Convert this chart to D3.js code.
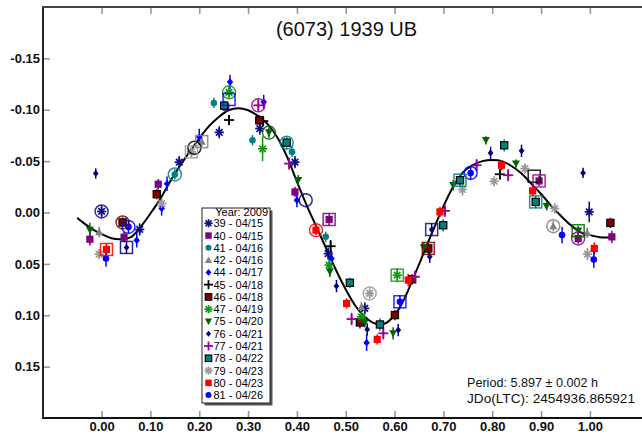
<!DOCTYPE html>
<html><head><meta charset="utf-8">
<script src="https://cdnjs.cloudflare.com/ajax/libs/d3/7.8.5/d3.min.js"></script>
<style>body{margin:0;background:#fff}svg{display:block}</style>
</head><body>
<svg id="c" width="642" height="436"></svg>
<script>
// ---------- data ----------
const title = "(6073) 1939 UB";
const xTicks = [0,0.1,0.2,0.3,0.4,0.5,0.6,0.7,0.8,0.9,1.0];
const yTicks = [-0.15,-0.10,-0.05,0.00,0.05,0.10,0.15];
const legendTitle = "Year: 2009";
const sessionLabels = ["39 - 04/15","40 - 04/15","41 - 04/16","42 - 04/16","44 - 04/17","45 - 04/18","46 - 04/18","47 - 04/19","75 - 04/20","76 - 04/21","77 - 04/21","78 - 04/22","79 - 04/23","80 - 04/23","81 - 04/26"];
const infoLines = ["Period: 5.897 \u00b1 0.002 h","JDo(LTC): 2454936.865921"];

// [phase, reduced mag, error]
const s39 = [[0.000,-0.001,0.006],[0.078,0.0165,0.006],[0.159,-0.049,0.006],[0.241,-0.078,0.006],[0.324,-0.0817,0.006],[0.396,-0.049,0.006],[0.464,0.040,0.006],[0.539,0.0933,0.006],[0.9986,-0.0006,0.010]];
const s40 = [[-0.024,0.026,0.006],[0.046,0.024,0.005],[0.116,-0.0275,0.005],[0.2545,-0.1027,0.005],[0.396,-0.020,0.005],[0.466,0.0068,0.006],[0.896,-0.0307,0.005],[0.976,0.0253,0.005],[1.045,0.0237,0.006]];
const s41 = [[0.150,-0.037,0.005],[0.230,-0.1066,0.005],[0.309,-0.0703,0.005],[0.390,-0.059,0.005],[0.459,0.0237,0.005]];
const s42 = [[-0.005,0.019,0.005],[0.205,-0.069,0.005],[0.532,0.092,0.005],[0.925,0.0133,0.005],[0.9945,0.0198,0.005]];
const s44 = [[0.072,0.027,0.007],[0.123,-0.004,0.007],[0.134,-0.028,0.007],[0.200,-0.0735,0.008],[0.263,-0.127,0.007],[0.332,-0.1075,0.007],[0.400,-0.012,0.007],[0.471,0.0447,0.007],[0.5427,0.1267,0.008]];
const s45 = [[0.261,-0.090,0.005],[0.331,-0.089,0.005],[0.469,0.0328,0.006],[0.8157,-0.0372,0.005]];
const s46 = [[0.043,0.0097,0.005],[0.113,-0.0178,0.005],[0.323,-0.0897,0.005],[0.529,0.107,0.006],[0.6007,0.0998,0.005],[0.636,0.065,0.005],[0.669,0.035,0.006],[1.042,0.0101,0.005]];
const s47 = [[0.261,-0.117,0.006],[0.3297,-0.062,0.012],[0.466,0.0512,0.007],[0.532,0.1015,0.006],[0.6054,0.061,0.007]];
const s75 = [[-0.024,0.017,0.007],[0.3427,-0.0778,0.005],[0.4026,-0.0314,0.005],[0.4675,0.0577,0.005],[0.539,0.107,0.005],[0.597,0.1176,0.006],[0.660,0.034,0.005],[0.720,-0.0265,0.005],[0.787,-0.0703,0.004],[0.8485,-0.0476,0.004],[0.9113,-0.0061,0.004],[0.976,0.0178,0.005]];
const s76 = [[-0.012,-0.038,0.005],[0.051,0.034,0.006],[0.481,0.0716,0.006],[0.544,0.1138,0.006],[0.6075,0.1144,0.006],[0.672,0.043,0.006],[0.676,0.0166,0.006],[0.7966,-0.058,0.006],[0.860,-0.060,0.006],[0.986,-0.0385,0.005]];
const s77 = [[0.321,-0.1043,0.006],[0.384,-0.0476,0.006],[0.512,0.1037,0.006],[0.577,0.1176,0.006],[0.6416,0.0626,0.006],[0.703,-0.0016,0.006],[0.768,-0.046,0.006],[0.8327,-0.0363,0.006]];
const s78 = [[0.251,-0.104,0.005],[0.379,-0.068,0.006],[0.5085,0.0684,0.005],[0.570,0.109,0.006],[0.6996,0.0124,0.006],[0.734,-0.0314,0.006],[0.8245,-0.0654,0.006],[0.889,-0.0103,0.006]];
const s79 = [[-0.005,0.0405,0.005],[0.123,-0.0087,0.005],[0.184,-0.059,0.005],[0.549,0.0788,0.005],[0.739,-0.0224,0.006],[0.804,-0.0304,0.005],[0.8669,-0.0428,0.005],[0.928,-0.0039,0.005],[0.995,0.0405,0.006]];
const s80 = [[0.010,0.036,0.006],[0.439,0.0172,0.005],[0.5017,0.0885,0.005],[0.5645,0.1235,0.005],[0.628,0.0658,0.006],[0.693,-0.0006,0.005],[0.819,-0.046,0.005],[0.8827,-0.021,0.005],[1.009,0.035,0.006]];
const s81 = [[0.009,0.0447,0.008],[0.055,0.014,0.006],[0.611,0.0869,0.006],[0.7557,-0.0385,0.006],[0.943,0.022,0.008],[1.008,0.0457,0.008]];
const sessionData = [s39,s40,s41,s42,s44,s45,s46,s47,s75,s76,s77,s78,s79,s80,s81];

// highlighted points: [session index, phase, mag]
const ringCircles = [[0,0.000,-0.001],[6,0.043,0.0097],[4,0.055,0.014],[2,0.150,-0.037],[5,0.190,-0.063],[7,0.261,-0.117],[10,0.321,-0.1043],[8,0.3427,-0.0778],[11,0.379,-0.068],[9,0.418,-0.012],[13,0.439,0.0172],[12,0.549,0.0788],[14,0.7557,-0.0385],[3,0.925,0.0133],[1,0.976,0.0253]];
const ringSquares = [[13,0.010,0.036],[9,0.051,0.034],[12,0.184,-0.059],[3,0.205,-0.069],[4,0.261,-0.110],[1,0.466,0.0068],[7,0.6054,0.061],[14,0.611,0.0869],[6,0.669,0.035],[0,0.676,0.0166],[11,0.734,-0.0314],[5,0.886,-0.0353],[10,0.896,-0.0307],[11,0.889,-0.0103],[8,0.976,0.0178]];

// Fourier fit curve
const curvePhase = [-0.05,-0.04,-0.02,0.00,0.02,0.04,0.06,0.08,0.10,0.12,0.14,0.16,0.18,0.20,0.22,0.24,0.26,0.28,0.30,0.32,0.34,0.36,0.38,0.40,0.42,0.44,0.46,0.48,0.50,0.52,0.54,0.56,0.58,0.60,0.62,0.64,0.66,0.68,0.70,0.72,0.74,0.76,0.78,0.80,0.82,0.84,0.86,0.88,0.90,0.92,0.94,0.96,0.98,1.00,1.02,1.04,1.05];
const curveMag = [0.005,0.009,0.016,0.021,0.025,0.026,0.024,0.014,0.001,-0.013,-0.030,-0.045,-0.059,-0.072,-0.084,-0.093,-0.0995,-0.1015,-0.0995,-0.094,-0.086,-0.073,-0.054,-0.030,-0.007,0.014,0.035,0.056,0.075,0.091,0.102,0.108,0.108,0.100,0.084,0.062,0.039,0.016,-0.006,-0.025,-0.039,-0.046,-0.050,-0.051,-0.050,-0.045,-0.038,-0.028,-0.018,-0.007,0.003,0.012,0.019,0.022,0.024,0.024,0.023];

// ---------- styles ----------
const styles = [
 {shape:"star", color:"#0c0c8a"},
 {shape:"square", color:"#800080"},
 {shape:"circle", color:"#008080"},
 {shape:"triangle", color:"#808080"},
 {shape:"diamond", color:"#0000ff"},
 {shape:"plus", color:"#000000"},
 {shape:"square", color:"#800000", stroke:"#000"},
 {shape:"star", color:"#109910"},
 {shape:"tridown", color:"#006400"},
 {shape:"diamond", color:"#000080", small:true},
 {shape:"plus", color:"#990099"},
 {shape:"square", color:"#008080", stroke:"#000"},
 {shape:"star", color:"#999999"},
 {shape:"square", color:"#ff0000"},
 {shape:"circle", color:"#0000ff"}
];

const svg = d3.select("#c");
const L = 43, T = 7, B = 418;
const x = d3.scaleLinear().domain([-0.12, 1.12]).range([L, L + 1.24*488.3]);
const y = d3.scaleLinear().domain([-0.2, 0.2]).range([T, B]);
const R = x.range()[1];
const lf = "Liberation Sans, Arial, sans-serif";

// title
svg.append("text").attr("x", 346.5).attr("y", 36).attr("text-anchor","middle")
  .style("font-family",lf).style("font-size","20px").attr("fill","#111").text(title);

// axes
const axFont = g => g.selectAll("text").style("font-family",lf)
   .style("font-size","13px").style("font-weight","bold").attr("fill","#111");
const gL = svg.append("g").attr("transform",`translate(${L},0)`)
  .call(d3.axisLeft(y).tickValues(yTicks).tickSize(-7).tickPadding(4).tickFormat(d3.format(".2f")));
gL.call(axFont); gL.select(".domain").remove();
gL.selectAll(".tick line").attr("stroke","#999").attr("stroke-width",1.6);
gL.selectAll(".tick text").attr("x",-3).text(d => d3.format(".2f")(d).replace("\u2212","-"));

const gB = svg.append("g").attr("transform",`translate(0,${B})`)
  .call(d3.axisBottom(x).tickValues(xTicks).tickSize(-7).tickPadding(4).tickFormat(d3.format(".2f")));
gB.call(axFont); gB.select(".domain").remove();
gB.selectAll(".tick line").attr("stroke","#999").attr("stroke-width",1.6);

const gT = svg.append("g").attr("transform",`translate(0,${T})`)
  .call(d3.axisTop(x).tickValues(xTicks).tickSize(-7).tickFormat(""));
gT.select(".domain").remove();
gT.selectAll(".tick line").attr("stroke","#999").attr("stroke-width",1.6);

// frame
svg.append("line").attr("x1",L).attr("x2",L).attr("y1",T).attr("y2",B).attr("stroke","#222").attr("stroke-width",2);
svg.append("line").attr("x1",L-1).attr("x2",R).attr("y1",T).attr("y2",T).attr("stroke","#444").attr("stroke-width",2);
svg.append("line").attr("x1",L-1).attr("x2",R).attr("y1",B).attr("y2",B).attr("stroke","#111").attr("stroke-width",2);

// curve
const cpts = curvePhase.map((p,i)=>[p,curveMag[i]]);
svg.append("path").datum(cpts)
  .attr("d", d3.line().x(d=>x(d[0])).y(d=>y(d[1])).curve(d3.curveCatmullRom.alpha(0.5)))
  .attr("fill","none").attr("stroke","#000").attr("stroke-width",2);

// marker drawing
function drawMarker(g, st, cx, cy, scale){
  const s = scale||1;
  const c = st.color;
  if(st.shape==="star"){
    const r=4.6*s;
    for(let a=0;a<180;a+=45){
      const rad=a*Math.PI/180;
      g.append("line").attr("x1",cx-r*Math.cos(rad)).attr("y1",cy-r*Math.sin(rad))
        .attr("x2",cx+r*Math.cos(rad)).attr("y2",cy+r*Math.sin(rad))
        .attr("stroke",c).attr("stroke-width",1.7);
    }
  } else if(st.shape==="square"){
    const h=3.6*s;
    g.append("rect").attr("x",cx-h).attr("y",cy-h).attr("width",2*h).attr("height",2*h)
      .attr("fill",c).attr("stroke",st.stroke||"none").attr("stroke-width",1.2);
  } else if(st.shape==="circle"){
    g.append("circle").attr("cx",cx).attr("cy",cy).attr("r",3.3*s).attr("fill",c);
  } else if(st.shape==="triangle"){
    const h=4*s;
    g.append("path").attr("d",`M${cx},${cy-h}L${cx+h},${cy+h*0.8}L${cx-h},${cy+h*0.8}Z`).attr("fill",c);
  } else if(st.shape==="tridown"){
    const h=4*s;
    g.append("path").attr("d",`M${cx},${cy+h}L${cx+h},${cy-h*0.8}L${cx-h},${cy-h*0.8}Z`).attr("fill",c);
  } else if(st.shape==="diamond"){
    const h=(st.small?3.4:3.8)*s;
    g.append("path").attr("d",`M${cx},${cy-h}L${cx+h*0.85},${cy}L${cx},${cy+h}L${cx-h*0.85},${cy}Z`).attr("fill",c);
  } else if(st.shape==="plus"){
    const r=5*s;
    g.append("line").attr("x1",cx-r).attr("x2",cx+r).attr("y1",cy).attr("y2",cy).attr("stroke",c).attr("stroke-width",1.8);
    g.append("line").attr("x1",cx).attr("x2",cx).attr("y1",cy-r).attr("y2",cy+r).attr("stroke",c).attr("stroke-width",1.8);
  }
}

// points
const gp = svg.append("g");
sessionData.forEach((arr,si)=>{
  const st = styles[si];
  arr.forEach(d=>{
    gp.append("line").attr("x1",x(d[0])).attr("x2",x(d[0]))
      .attr("y1",y(d[1]-d[2])).attr("y2",y(d[1]+d[2]))
      .attr("stroke",st.color).attr("stroke-width",1.5);
  });
});
sessionData.forEach((arr,si)=>{
  const st = styles[si];
  arr.forEach(d=> drawMarker(gp, st, x(d[0]), y(d[1])));
});
// ring highlights
ringCircles.forEach(d=>{
  gp.append("circle").attr("cx",x(d[1])).attr("cy",y(d[2])).attr("r",6.5)
    .attr("fill","none").attr("stroke",styles[d[0]].color).attr("stroke-width",1.5).attr("opacity",0.85);
});
ringSquares.forEach(d=>{
  gp.append("rect").attr("x",x(d[1])-6).attr("y",y(d[2])-6).attr("width",12).attr("height",12)
    .attr("fill","none").attr("stroke",styles[d[0]].color).attr("stroke-width",1.5).attr("opacity",0.85);
});

// legend
const lg = svg.append("g");
const lx=202, ly=208, lw=68, lh=195;
lg.append("rect").attr("x",lx+2.5).attr("y",ly+2.5).attr("width",lw).attr("height",lh).attr("fill","#555");
lg.append("rect").attr("x",lx).attr("y",ly).attr("width",lw).attr("height",lh).attr("fill","#fff").attr("stroke","#222").attr("stroke-width",1);
lg.append("text").attr("x",lx+lw-2).attr("y",ly+8).attr("text-anchor","end")
  .style("font-family",lf).style("font-size","11px").attr("fill","#000").text(legendTitle);
sessionLabels.forEach((lab,i)=>{
  const cy = 223.3 + i*12.27;
  drawMarker(lg, styles[i], 208.5, cy, 0.9);
  lg.append("text").attr("x",213.5).attr("y",cy+4).style("font-family",lf).style("font-size","11px").attr("fill","#000").text(lab);
});

// info text
const infoWidths = [131, 168];
infoLines.forEach((t,i)=>{
  svg.append("text").attr("x",467).attr("y",387 + i*15.5)
    .attr("textLength", infoWidths[i]).attr("lengthAdjust","spacingAndGlyphs")
    .style("font-family",lf).style("font-size","13px").attr("fill","#111").text(t);
});
</script>
</body></html>
